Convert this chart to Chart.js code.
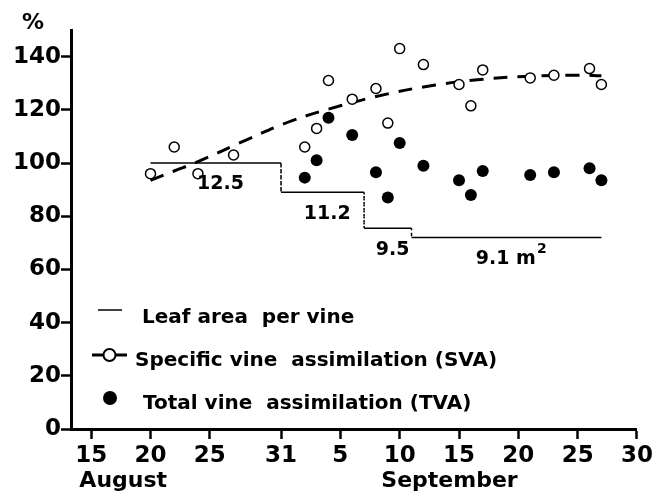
<!DOCTYPE html>
<html>
<head>
<meta charset="utf-8">
<script src="https://cdn.jsdelivr.net/npm/chart.js@4"></script>
<style>
  body { margin: 0; background: #fff; }
  canvas { display: block; }
</style>
</head>
<body>
<canvas id="grafico" width="656" height="493"></canvas>
<script>
// días contados desde el 1 de agosto (5 sep = 36)
const svaDays   = [20, 22, 24, 27, 33, 34, 35, 37, 39, 40, 41, 43, 46, 47, 48, 52, 54, 57, 58];
const svaValues = [96, 106, 96, 103, 106, 113, 131, 124, 128, 115, 143, 137, 129.5, 121.5, 135, 132, 133, 135.5, 129.5];

const tvaDays   = [33, 34, 35, 37, 39, 40, 41, 43, 46, 47, 48, 52, 54, 57, 58];
const tvaValues = [94.5, 101, 117, 110.5, 96.5, 87, 107.5, 99, 93.5, 88, 97, 95.5, 96.5, 98, 93.5];

const trendDays   = [20, 22, 24, 28, 32, 36, 40, 44, 48, 52, 56, 58];
const trendValues = [93.5, 97, 100.5, 108.5, 116, 121.5, 126, 129.3, 131.5, 132.6, 133, 132.8];

const leafDays   = [20, 31, 31, 38, 38, 42, 42, 58];
const leafValues = [100, 100, 89, 89, 75.5, 75.5, 72, 72];
const leafLabels = ["12.5", "11.2", "9.5", "9.1 m²"];

const xTicks      = [15, 20, 25, 31, 36, 41, 46, 51, 56, 61];
const xTickLabels = ["15", "20", "25", "31", "5", "10", "15", "20", "25", "30"];
const months      = ["August", "September"];
const legendLabels = ["Leaf area  per vine", "Specific vine  assimilation (SVA)", "Total vine  assimilation (TVA)"];

const FONT = "'DejaVu Sans', sans-serif";
const toXY = (xs, ys) => xs.map((d, i) => ({ x: d, y: ys[i] }));

const extras = {
  id: "extras",
  afterDraw(chart) {
    const { ctx, scales: { x, y }, chartArea } = chart;
    ctx.save();

    // ticks menores del eje y
    ctx.strokeStyle = "#000";
    ctx.lineWidth = 2.5;
    y.ticks.forEach(t => {
      if (t.value % 20 !== 0) {
        const py = y.getPixelForValue(t.value);
        ctx.beginPath();
        ctx.moveTo(chartArea.left - 5, py);
        ctx.lineTo(chartArea.left, py);
        ctx.stroke();
      }
    });

    ctx.fillStyle = "#000";
    ctx.textAlign = "center";
    ctx.textBaseline = "alphabetic";
    ctx.font = "bold 22px " + FONT;
    ctx.fillText("%", 33, 29);
    ctx.fillText(months[0], x.getPixelForValue(17.7), 487);
    ctx.fillText(months[1], x.getPixelForValue(45.2), 487);

    // etiquetas del área foliar
    ctx.textBaseline = "top";
    leafLabels.forEach((lab, i) => {
      const mid = (leafDays[i * 2] + leafDays[i * 2 + 1]) / 2 + 0.4;
      const px = x.getPixelForValue(mid);
      const py = y.getPixelForValue(leafValues[i * 2]) + 12;
      ctx.font = "bold 19px " + FONT;
      if (lab.endsWith("²")) {
        const base = lab.slice(0, -1);
        const wBase = ctx.measureText(base).width;
        ctx.font = "bold 14px " + FONT;
        const wSup = ctx.measureText("2").width;
        const left = px - (wBase + wSup + 1) / 2;
        ctx.textAlign = "left";
        ctx.fillText("2", left + wBase + 1, py - 7);
        ctx.font = "bold 19px " + FONT;
        ctx.fillText(base, left, py);
        ctx.textAlign = "center";
      } else {
        ctx.fillText(lab, px, py);
      }
    });

    // leyenda
    ctx.textAlign = "left";
    ctx.textBaseline = "alphabetic";
    ctx.font = "bold 20px " + FONT;

    ctx.lineWidth = 1.5;
    ctx.beginPath();
    ctx.moveTo(98, 310);
    ctx.lineTo(122, 310);
    ctx.stroke();
    ctx.fillText(legendLabels[0], 142, 323);

    ctx.lineWidth = 3;
    ctx.beginPath();
    ctx.moveTo(92, 355);
    ctx.lineTo(127, 355);
    ctx.stroke();
    ctx.beginPath();
    ctx.arc(109.5, 355, 6, 0, Math.PI * 2);
    ctx.fillStyle = "#fff";
    ctx.fill();
    ctx.lineWidth = 2;
    ctx.stroke();
    ctx.fillStyle = "#000";
    ctx.fillText(legendLabels[1], 135, 366);

    ctx.beginPath();
    ctx.arc(110, 398, 7, 0, Math.PI * 2);
    ctx.fill();
    ctx.fillText(legendLabels[2], 143, 409);

    ctx.restore();
  }
};

new Chart(document.getElementById("grafico"), {
  type: "line",
  data: {
    datasets: [
      {
        label: "SVA",
        data: toXY(svaDays, svaValues),
        showLine: false,
        pointRadius: 5,
        pointBackgroundColor: "#fff",
        pointBorderColor: "#000",
        pointBorderWidth: 1.5,
        order: 0
      },
      {
        label: "TVA",
        data: toXY(tvaDays, tvaValues),
        showLine: false,
        pointRadius: 6,
        pointBackgroundColor: "#000",
        pointBorderColor: "#000",
        pointBorderWidth: 0,
        order: 1
      },
      {
        label: "tendencia",
        data: toXY(trendDays, trendValues),
        borderColor: "#000",
        borderWidth: 3,
        borderDash: [14, 10],
        tension: 0.4,
        pointRadius: 0,
        order: 2
      },
      {
        label: "Leaf area per vine",
        data: toXY(leafDays, leafValues),
        borderColor: "#000",
        borderWidth: 1.5,
        pointRadius: 0,
        segment: {
          borderDash: c => c.p0.parsed.x === c.p1.parsed.x ? [2, 4] : undefined
        },
        order: 3
      }
    ]
  },
  options: {
    responsive: false,
    animation: false,
    layout: { padding: { top: 30, right: 17, left: 0, bottom: 0 } },
    plugins: { legend: { display: false }, tooltip: { enabled: false } },
    scales: {
      x: {
        type: "linear",
        min: 13.3,
        max: 61,
        afterBuildTicks: scale => { scale.ticks = xTicks.map(v => ({ value: v })); },
        afterFit: scale => { scale.height = 64; },
        ticks: {
          autoSkip: false,
          maxRotation: 0,
          padding: 3,
          color: "#000",
          font: { family: FONT, size: 23, weight: "bold" },
          callback: (v, i) => xTickLabels[i]
        },
        grid: { drawOnChartArea: false, tickLength: 10, tickWidth: 2.5, tickColor: "#000" },
        border: { color: "#000", width: 3 }
      },
      y: {
        min: 0,
        max: 150,
        afterFit: scale => { scale.width = 71; },
        ticks: {
          stepSize: 10,
          padding: 0,
          color: "#000",
          font: { family: FONT, size: 23, weight: "bold" },
          callback: v => v % 20 === 0 ? v : ""
        },
        grid: {
          drawOnChartArea: false,
          tickLength: 10,
          tickWidth: 2.5,
          tickColor: c => c.tick && c.tick.value % 20 === 0 ? "#000" : "rgba(0,0,0,0)"
        },
        border: { color: "#000", width: 3 }
      }
    }
  },
  plugins: [extras]
});
</script>
</body>
</html>
